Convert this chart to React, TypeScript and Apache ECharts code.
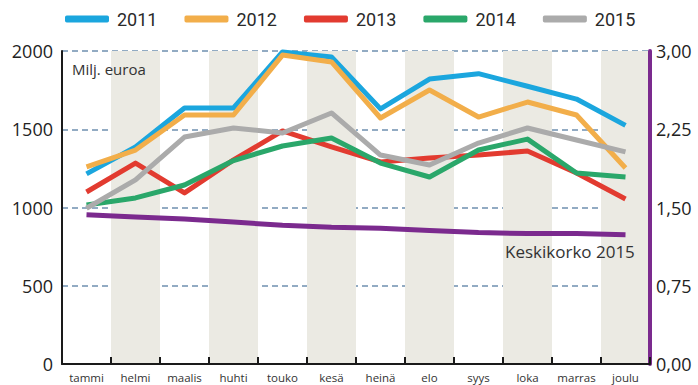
import React, { useEffect, useRef } from "react";
import * as echarts from "echarts";

const months = ["tammi", "helmi", "maalis", "huhti", "touko", "kesä", "heinä", "elo", "syys", "loka", "marras", "joulu"];
const s2011 = [1215, 1387, 1636, 1636, 1994, 1962, 1630, 1821, 1855, 1775, 1693, 1525];
const s2012 = [1259, 1367, 1591, 1591, 1974, 1930, 1572, 1751, 1578, 1674, 1591, 1252];
const s2013 = [1099, 1284, 1093, 1304, 1489, 1387, 1291, 1316, 1335, 1361, 1220, 1054];
const s2014 = [1016, 1061, 1144, 1300, 1393, 1444, 1284, 1195, 1367, 1437, 1220, 1195];
const s2015 = [995, 1176, 1450, 1508, 1476, 1604, 1335, 1272, 1412, 1508, 1431, 1355];
const rate2015 = [1.43, 1.41, 1.39, 1.36, 1.33, 1.31, 1.30, 1.28, 1.26, 1.25, 1.25, 1.24];
const leftTicks = { min: 0, max: 2000, interval: 500 };
const rightTicks = { min: 0, max: 3, interval: 0.75 };

const years = [
  { name: "2011", data: s2011, color: "#1ba6de" },
  { name: "2012", data: s2012, color: "#f2ae4a" },
  { name: "2013", data: s2013, color: "#e23b30" },
  { name: "2014", data: s2014, color: "#2aa76a" },
  { name: "2015", data: s2015, color: "#ababab" },
];

const FONT = "'Open Sans', 'DejaVu Sans', sans-serif";
const LEGEND_FONT = "Roboto, 'Open Sans', sans-serif";

export default function App() {
  const ref = useRef<HTMLDivElement>(null);
  useEffect(() => {
    if (!ref.current) return;
    const chart = echarts.init(ref.current, null, { renderer: "svg" });
    chart.setOption({
      animation: false,
      backgroundColor: "#ffffff",
      legend: {
        data: years.map((y) => y.name),
        left: 60,
        top: 5,
        itemWidth: 44,
        itemHeight: 7,
        itemGap: 27,
        icon: "roundRect",
        textStyle: { fontFamily: LEGEND_FONT, fontSize: 18, fontWeight: 400, color: "#2a2a2a", padding: [0, 0, 0, 3] },
      },
      grid: { left: 62, right: 48, top: 51, bottom: 21, containLabel: false },
      xAxis: {
        type: "category",
        data: months,
        boundaryGap: true,
        axisLine: { show: true, lineStyle: { color: "#1a1a1a", width: 2 } },
        axisTick: { show: true, inside: true, length: 7, interval: 0, lineStyle: { color: "#1a1a1a", width: 2 } },
        axisLabel: { interval: 0, fontFamily: FONT, fontSize: 11.5, color: "#333", margin: 7 },
        splitArea: { show: true, interval: 0, areaStyle: { color: ["rgba(255,255,255,0)", "#ebeae3"] } },
        splitLine: { show: false },
      },
      yAxis: [
        {
          type: "value",
          ...leftTicks,
          axisLine: { show: true, lineStyle: { color: "#1a1a1a", width: 2 } },
          axisTick: { show: false },
          axisLabel: { fontFamily: FONT, fontSize: 18, color: "#222", margin: 9, formatter: (v: number) => String(v) },
          splitLine: { show: true, lineStyle: { color: "#6f90b0", width: 1.5, type: [6, 4] } },
        },
        {
          type: "value",
          ...rightTicks,
          position: "right",
          axisLine: { show: true, lineStyle: { color: "#7b2a8e", width: 4 } },
          axisTick: { show: false },
          axisLabel: {
            fontFamily: FONT,
            fontSize: 18,
            color: "#222",
            margin: 6,
            formatter: (v: number) => v.toFixed(2).replace(".", ","),
          },
          splitLine: { show: false },
        },
      ],
      series: [
        ...years.map((y) => ({
          name: y.name,
          type: "line",
          data: y.data,
          showSymbol: false,
          symbol: "none",
          color: y.color,
          lineStyle: { width: 5, color: y.color, join: "round" },
          z: 3,
        })),
        {
          name: "Keskikorko 2015",
          type: "line",
          yAxisIndex: 1,
          data: rate2015,
          showSymbol: false,
          symbol: "none",
          color: "#7b2a8e",
          lineStyle: { width: 5, color: "#7b2a8e" },
          z: 3,
        },
      ],
      graphic: [
        {
          type: "text",
          left: 72,
          top: 61,
          z: 100,
          style: { text: "Milj. euroa", fontFamily: FONT, fontSize: 15, fill: "#333" },
        },
        {
          type: "text",
          left: 505,
          top: 243,
          z: 100,
          style: { text: "Keskikorko 2015", fontFamily: FONT, fontSize: 17, fill: "#333" },
        },
      ],
    });
    return () => chart.dispose();
  }, []);
  return <div ref={ref} style={{ position: "fixed", left: 0, top: 0, width: 698, height: 385 }} />;
}
